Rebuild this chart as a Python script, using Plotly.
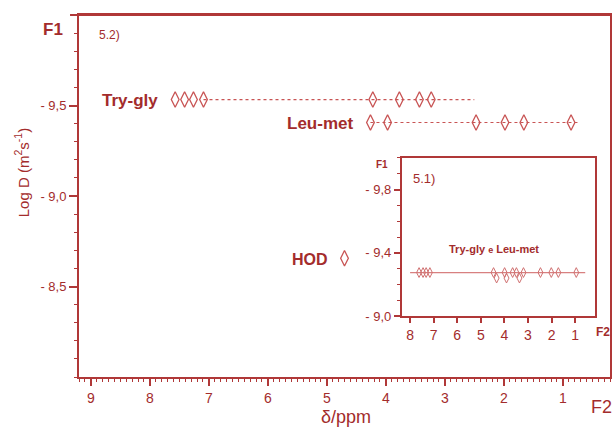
import plotly.graph_objects as go

# ---------------- data ----------------
# main plot (5.2)
trygly_ppm = [7.57, 7.41, 7.26, 7.09, 4.22, 3.77, 3.43, 3.23]
trygly_logD = [-9.533] * len(trygly_ppm)
trygly_line_ppm = [7.09, 2.50]
trygly_line_logD = [-9.533, -9.533]

leumet_ppm = [4.26, 3.97, 2.47, 1.98, 1.66, 0.86]
leumet_logD = [-9.406] * len(leumet_ppm)
leumet_line_ppm = [4.26, 0.75]
leumet_line_logD = [-9.406, -9.406]

hod_ppm = [4.70]
hod_logD = [-8.656]

main_ytickvals = [-9.5, -9.0, -8.5]
main_yticktext = ["- 9,5", "- 9,0", "- 8,5"]
main_xtickvals = [9, 8, 7, 6, 5, 4, 3, 2, 1]

# inset (5.1)
inset_ppm = [7.62, 7.45, 7.32, 7.16, 4.46, 3.99, 3.65, 3.49, 3.19, 2.47, 2.01, 1.71, 0.95]
inset_logD = [-9.275] * len(inset_ppm)
inset_low_ppm = [4.33, 3.91, 3.36]
inset_low_logD = [-9.24] * len(inset_low_ppm)
inset_line_ppm = [8.0, 0.57]
inset_line_logD = [-9.275, -9.275]

inset_ytickvals = [-9.8, -9.4, -9.0]
inset_yticktext = ["- 9,8", "- 9,4", "- 9,0"]
inset_xtickvals = [8, 7, 6, 5, 4, 3, 2, 1]

# ---------------- styles ----------------
AX = "#b03838"
TXT = "#a32c2c"
MK = "#c85454"
FONT = "Liberation Sans, Arial, sans-serif"

fig = go.Figure()

# main traces
fig.add_trace(go.Scatter(x=trygly_line_ppm, y=trygly_line_logD, mode="lines",
                         line=dict(color=MK, width=1.2, dash="dot"),
                         xaxis="x", yaxis="y", showlegend=False, hoverinfo="skip"))
fig.add_trace(go.Scatter(x=leumet_line_ppm, y=leumet_line_logD, mode="lines",
                         line=dict(color=MK, width=1.2, dash="dot"),
                         xaxis="x", yaxis="y", showlegend=False, hoverinfo="skip"))
for xs, ys in [(trygly_ppm, trygly_logD), (leumet_ppm, leumet_logD), (hod_ppm, hod_logD)]:
    fig.add_trace(go.Scatter(x=xs, y=ys, mode="markers",
                             marker=dict(symbol="diamond-tall-open", size=11,
                                         color=MK, line=dict(width=1.3, color=MK)),
                             xaxis="x", yaxis="y", showlegend=False))

# inset traces
fig.add_trace(go.Scatter(x=inset_line_ppm, y=inset_line_logD, mode="lines",
                         line=dict(color="#d88080", width=1.2),
                         xaxis="x2", yaxis="y2", showlegend=False, hoverinfo="skip"))
fig.add_trace(go.Scatter(x=inset_ppm, y=inset_logD, mode="markers",
                         marker=dict(symbol="diamond-tall-open", size=7,
                                     color="#d07070", line=dict(width=1, color="#d07070")),
                         xaxis="x2", yaxis="y2", showlegend=False))
fig.add_trace(go.Scatter(x=inset_low_ppm, y=inset_low_logD, mode="markers",
                         marker=dict(symbol="diamond-tall-open", size=7,
                                     color="#d07070", line=dict(width=1, color="#d07070")),
                         xaxis="x2", yaxis="y2", showlegend=False))

axis_common = dict(showgrid=False, zeroline=False, showline=True, linecolor=AX,
                   ticks="outside", tickcolor=AX)

fig.update_layout(
    width=614, height=429,
    margin=dict(l=79, r=2, t=15, b=52),
    paper_bgcolor="white", plot_bgcolor="white",
    font=dict(family=FONT, color=TXT),
    xaxis=dict(**axis_common, range=[9.2, 0.2], linewidth=2, mirror=True,
               tickvals=main_xtickvals, ticklen=7, tickwidth=1.5,
               tickfont=dict(size=14, color=TXT),
               minor=dict(dtick=0.1, ticklen=3, tickcolor=AX, ticks="outside", tickwidth=1),
               anchor="y"),
    yaxis=dict(**axis_common, range=[-8.0, -10.0], linewidth=2, mirror=True,
               tickvals=main_ytickvals, ticktext=main_yticktext, ticklen=8, tickwidth=1.5,
               tickfont=dict(size=13, color=TXT),
               minor=dict(dtick=0.1, ticklen=3, tickcolor=AX, ticks="outside", tickwidth=1),
               anchor="x"),
    xaxis2=dict(**axis_common, range=[8.35, 0.15], linewidth=2, mirror=True,
                domain=[0.608, 0.972], anchor="y2",
                tickvals=inset_xtickvals, ticklen=5, tickwidth=1.5,
                tickfont=dict(size=14, color=TXT)),
    yaxis2=dict(**axis_common, range=[-9.0, -10.0], linewidth=2, mirror=True,
                domain=[0.1685, 0.605], anchor="x2",
                tickvals=inset_ytickvals, ticktext=inset_yticktext, ticklen=6, tickwidth=1.5,
                tickfont=dict(size=13, color=TXT),
                minor=dict(dtick=0.1, ticklen=3, tickcolor=AX, ticks="outside", tickwidth=1)),
)

# top border extension to the left of the y axis
fig.add_shape(type="line", xref="paper", yref="paper", x0=-9/533, x1=1, y0=1, y1=1,
              line=dict(color=AX, width=2))

ann = []
def txt(x, y, s, size, bold=False, xref="paper", yref="paper", xanchor="center", yanchor="middle", angle=0, color=TXT):
    ann.append(dict(x=x, y=y, xref=xref, yref=yref, text=("<b>%s</b>" % s) if bold else s,
                    showarrow=False, xanchor=xanchor, yanchor=yanchor, textangle=angle,
                    font=dict(size=size, color=color, family=FONT)))

# pixel helpers for paper coords of main plot area (x: 79..612, y: 15..377)
def px(xp):
    return (xp - 79) / 533
def py(yp):
    return (377 - yp) / 362

txt(px(53), py(30), "F1", 17, bold=True)
txt(px(97), py(35), "5.2)", 12, xanchor="left")
txt(px(160), py(101), "Try-gly", 17, bold=True, xanchor="right")
txt(px(356), py(124), "Leu-met", 17, bold=True, xanchor="right")
txt(px(331), py(259), "HOD", 16, bold=True, xanchor="right")
txt(px(21), py(173), "Log D (m<sup>2</sup>s<sup>-1</sup>)", 15, angle=-90)
txt(px(347), py(429), "δ/ppm", 18, yanchor="bottom")
txt(px(603), py(407), "F2", 18)
# inset texts
txt(px(383), py(164), "F1", 10, bold=True)
txt(px(412), py(178), "5.1)", 13, xanchor="left")
txt(px(496), py(249), "Try-gly <span style='font-size:9px'>e</span> Leu-met", 11, bold=True)
txt(px(605), py(332), "F2", 12, bold=True)

fig.update_layout(annotations=ann)

fig.write_html("out.html")
